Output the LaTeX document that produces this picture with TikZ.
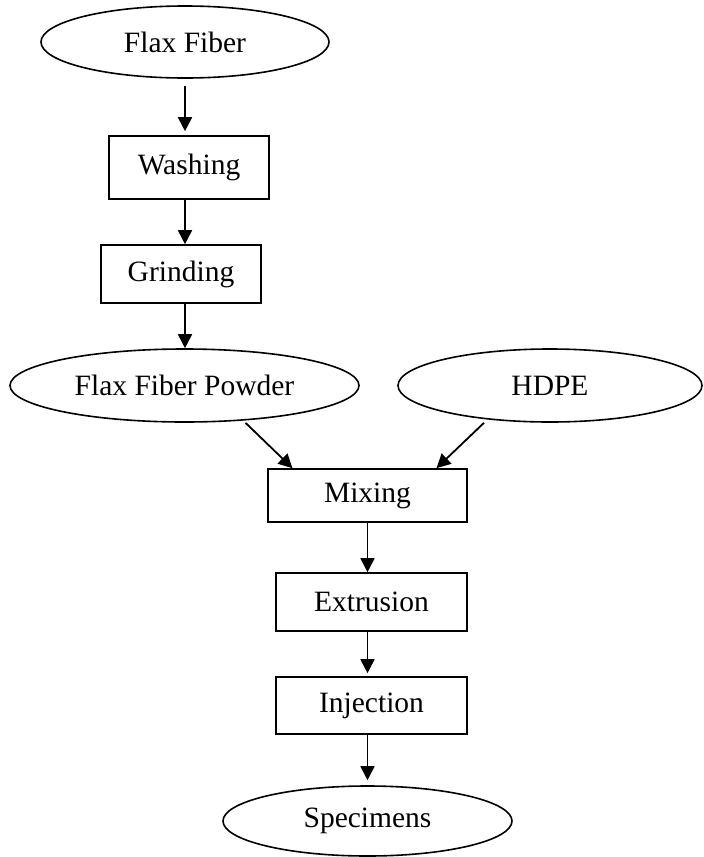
\documentclass[tikz,border=0pt]{standalone}
\usepackage{fontspec}
\setmainfont{Liberation Serif}
\usetikzlibrary{shapes.geometric,arrows.meta}
\begin{document}
\begin{tikzpicture}[x=1pt, y=-1pt,
                    font=\fontsize{29.5}{34}\selectfont,
                    material/.style={ellipse, draw=black, line width=1.6pt, inner sep=0pt},
                    process/.style={rectangle, draw=black, line width=1.6pt, inner sep=0pt},
                    flow/.style={draw, line width=1.8pt, -{Triangle[length=14pt,width=14pt]}}
                ]
                \useasboundingbox (0,0) rectangle (704,857);

                % Raw fiber
                \node[material, minimum width=288pt, minimum height=72pt] (ff) at (185,42) {Flax Fiber};

                % Fiber preparation
                \node[process, minimum width=160pt, minimum height=63pt] (wash) at (189,167.5) {Washing};
                \node[process, minimum width=160pt, minimum height=58pt] (grind) at (181,274) {Grinding};

                % Inputs of the mixer
                \node[material, minimum width=349pt, minimum height=73pt] (ffp) at (184.5,385.5) {Flax Fiber Powder};
                \node[material, minimum width=304pt, minimum height=73pt] (hdpe) at (550,385.5) {HDPE};

                % Composite processing
                \node[process, minimum width=199pt, minimum height=53pt] (mix) at (367.5,495.5) {Mixing};
                \node[process, minimum width=191pt, minimum height=58pt] (ext) at (371.5,602) {Extrusion};
                \node[process, minimum width=191pt, minimum height=57pt] (inj) at (371.5,705.5) {Injection};

                % Product
                \node[material, minimum width=289pt, minimum height=70pt] (spec) at (367.5,821) {Specimens};

                % Flow
                \draw[flow, shorten <=7pt, shorten >=4pt] (ff.south) -- (ff.south |- wash.north);
                \draw[flow] (ff.south |- wash.south) -- (ff.south |- grind.north);
                \draw[flow] (ff.south |- grind.south) -- (ff.south |- ffp.north);
                \draw[flow] ([xshift=61pt]ffp.south) -- ([xshift=-75pt]mix.north);
                \draw[flow] ([xshift=-66pt]hdpe.south) -- ([xshift=69pt]mix.north);
                \draw[flow] (mix.south) -- (mix.south |- ext.north);
                \draw[flow, shorten >=3pt] (mix.south |- ext.south) -- (mix.south |- inj.north);
                \draw[flow, shorten >=5pt] (mix.south |- inj.south) -- (spec.north);
            \end{tikzpicture}
\end{document}
